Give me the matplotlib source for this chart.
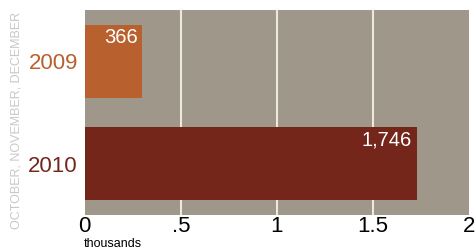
import matplotlib.pyplot as plt

# data (thousands)
years = ["2009", "2010"]
bar_values = [0.30, 1.73]
value_labels = ["366", "1,746"]
bar_colors = ["#b8602e", "#74261a"]
x_ticks = [0, 0.5, 1, 1.5, 2]
x_tick_labels = ["0", ".5", "1", "1.5", "2"]

plt.rcParams["font.family"] = ["Liberation Sans", "DejaVu Sans"]

fig = plt.figure(figsize=(4.76, 2.5), dpi=100)
ax = fig.add_axes([0.178, 0.14, 0.807, 0.82])
ax.set_facecolor("#9e978a")

ypos = list(range(len(years)))
ax.barh(ypos, bar_values, height=0.71, color=bar_colors, zorder=2)

for y, v, lab in zip(ypos, bar_values, value_labels):
    ax.text(v - 0.025, y - 0.32, lab, color="white", fontsize=14.5,
            ha="right", va="top", zorder=3)

ax.set_xlim(0, 2)
ax.set_ylim(1.5, -0.5)
ax.set_xticks(x_ticks)
ax.set_xticklabels(x_tick_labels, fontsize=16)
ax.set_yticks(ypos)
ax.set_yticklabels(years, fontsize=16)
for lbl, c in zip(ax.get_yticklabels(), bar_colors):
    lbl.set_color(c)

ax.tick_params(length=0, pad=1)
ax.tick_params(axis="y", pad=5)
for s in ax.spines.values():
    s.set_visible(False)

for g in x_ticks[1:-1]:
    ax.axvline(g, color="#ece8e0", lw=1.5, zorder=1)

fig.text(0.176, 0.012, "thousands", fontsize=9, ha="left", va="baseline")
fig.text(0.034, 0.52, "OCTOBER, NOVEMBER, DECEMBER", rotation=90, fontsize=9,
         color="#c8c8c8", ha="center", va="center")

fig.savefig("out.png", dpi=100)
